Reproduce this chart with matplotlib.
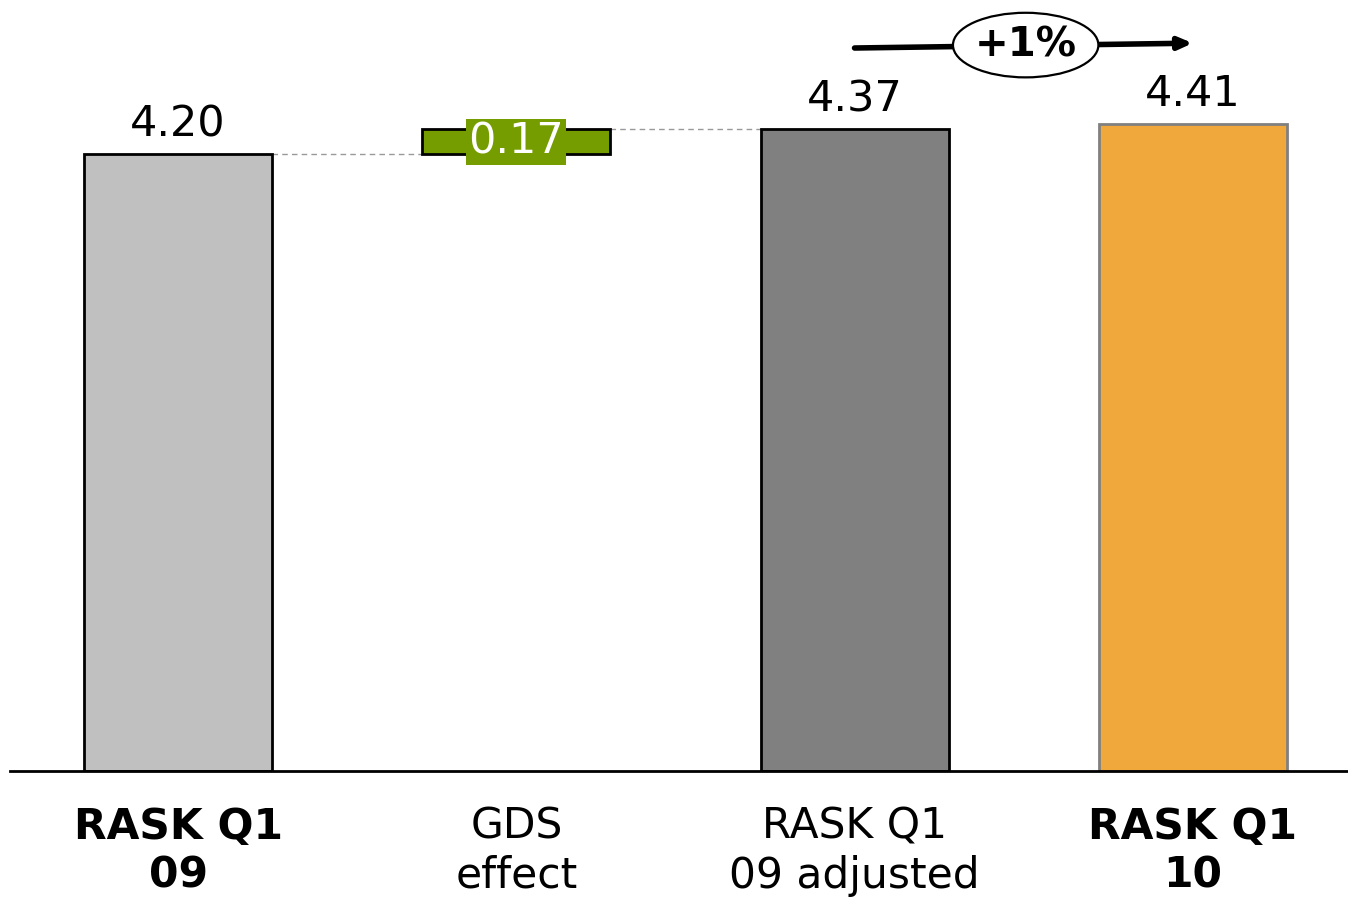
import matplotlib
matplotlib.use("Agg")
import matplotlib.pyplot as plt
from matplotlib.patches import Ellipse

# Waterfall data: RASK Q1 09 -> GDS effect -> adjusted -> Q1 10
categories = ["RASK Q1\n09", "GDS\neffect", "RASK Q1\n09 adjusted", "RASK Q1\n10"]
bold_flags = [True, False, False, True]
start_value = 4.20
gds_effect = 0.17
adjusted_value = 4.37
q1_10_value = 4.41
change_label = "+1%"

plt.rcParams["font.family"] = ["DejaVu Sans"]

fig = plt.figure(figsize=(13.48, 8.98), dpi=100)
ax = fig.add_axes([10 / 1348, 127 / 898, 1338 / 1348, 771 / 898])

x = list(range(len(categories)))
width = 0.556

# totals
ax.bar(x[0], start_value, width=width, color="#C0C0C0", edgecolor="black", linewidth=2, zorder=2)
ax.bar(x[2], adjusted_value, width=width, color="#808080", edgecolor="black", linewidth=2, zorder=2)
ax.bar(x[3], q1_10_value, width=width, color="#F0A83C", edgecolor="#808080", linewidth=2, zorder=2)
# floating delta
ax.bar(x[1], gds_effect, bottom=start_value, width=width, color="#759D00",
       edgecolor="black", linewidth=2, zorder=2)

# dashed connectors
ax.plot([x[0] + width / 2, x[1] - width / 2], [start_value, start_value],
        color="#999999", lw=1, ls=(0, (4, 3)), zorder=1)
ax.plot([x[1] + width / 2, x[2] - width / 2], [start_value + gds_effect] * 2,
        color="#999999", lw=1, ls=(0, (4, 3)), zorder=1)

# value labels
for xi, v in [(x[0], start_value), (x[2], adjusted_value), (x[3], q1_10_value)]:
    ax.text(xi, v + 0.06, f"{v:.2f}", ha="center", va="bottom", fontsize=31, color="black")
ax.text(x[1], start_value + gds_effect / 2, f"{gds_effect:.2f}", ha="center", va="center",
        fontsize=31, color="white", zorder=4,
        bbox=dict(boxstyle="square,pad=0.05", facecolor="#759D00", edgecolor="none"))

# growth arrow with ellipse badge
ax.annotate("", xy=(x[3], 4.958), xytext=(x[2], 4.925),
            arrowprops=dict(arrowstyle="-|>,head_length=0.8,head_width=0.35",
                            lw=4, color="black", shrinkA=0, shrinkB=0), zorder=3)
ell = Ellipse((2.506, 4.945), width=0.43, height=0.44, facecolor="white",
              edgecolor="black", lw=1.6, zorder=4)
ax.add_patch(ell)
ax.text(2.506, 4.94, change_label, ha="center", va="center", fontsize=29,
        fontweight="bold", zorder=5)

ax.set_xlim(-0.497, 3.459)
ax.set_ylim(0, 771 / 146.8)

for s in ["top", "right", "left"]:
    ax.spines[s].set_visible(False)
ax.spines["bottom"].set_linewidth(2)
ax.spines["bottom"].set_zorder(3)
ax.set_yticks([])
ax.set_xticks(x)
ax.set_xticklabels(categories, fontsize=30.5, linespacing=1.22)
for lbl, b in zip(ax.get_xticklabels(), bold_flags):
    lbl.set_fontweight("bold" if b else "normal")
ax.tick_params(axis="x", length=0, pad=25)

fig.savefig("out.png", dpi=100)
